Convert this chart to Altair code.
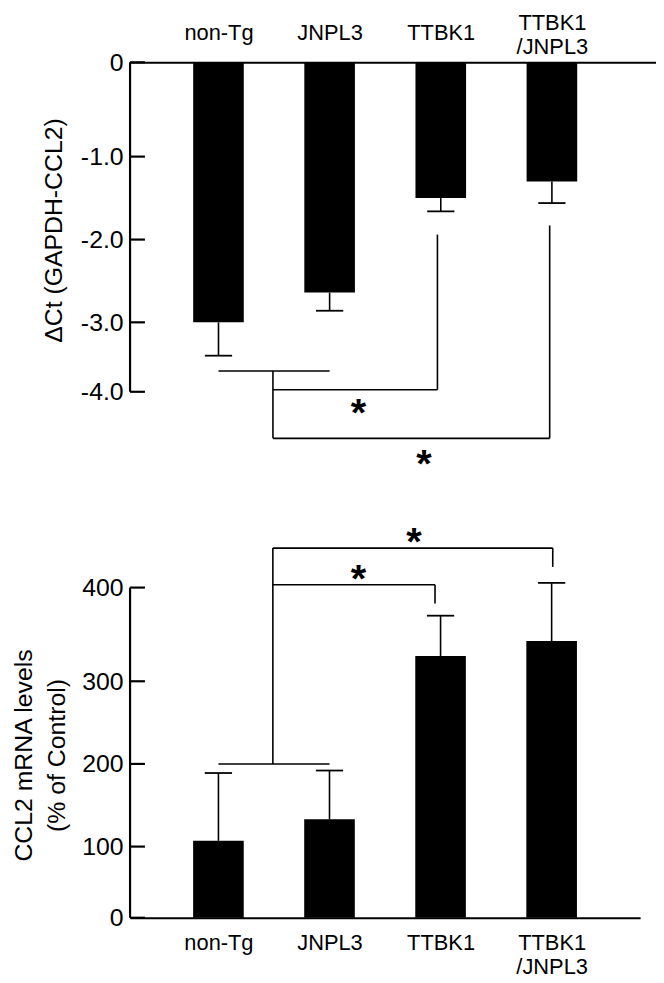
import json
import altair as alt
import pandas as pd

# ---------------- data ----------------
categories = ["non-Tg", "JNPL3", "TTBK1", "TTBK1 /JNPL3"]

dct_mean = [-3.00, -2.64, -1.50, -1.30]
dct_err = [0.48, 0.22, 0.16, 0.26]

ccl2_mean = [107, 133, 327, 343]
ccl2_err = [82, 59, 43, 62]

top_ticks = [0, -1, -2, -3, -4]
bottom_ticks = [0, 100, 200, 300, 400]

# significance brackets (data units: x = group index, y = value)
top_seg_x = [0.0, 0.49, 0.49, 1.97, 0.49, 2.98]
top_seg_x2 = [1.0, 0.49, 1.97, 1.97, 2.98, 2.98]
top_seg_y = [-3.70, -3.70, -3.97, -3.97, -4.67, -4.67]
top_seg_y2 = [-3.70, -4.67, -3.97, -1.94, -4.67, -1.83]
top_star_x = [1.26, 1.85]
top_star_y = [-4.22, -4.96]

bot_seg_x = [0.0, 0.49, 0.49, 1.95, 0.49, 3.01]
bot_seg_x2 = [1.0, 0.49, 1.95, 1.95, 3.01, 3.01]
bot_seg_y = [200, 200, 403, 403, 442, 442]
bot_seg_y2 = [200, 442, 403, 383, 442, 422]
bot_star_x = [1.26, 1.76]
bot_star_y = [415, 455]

# ---------------- tables ----------------
CAP = 0.1226
idx = list(range(len(categories)))

top_df = pd.DataFrame({"idx": idx, "mean": dct_mean, "err": dct_err})
top_df["end"] = top_df["mean"] - top_df["err"]
top_df["lo"] = top_df["idx"] - CAP
top_df["hi"] = top_df["idx"] + CAP

bot_df = pd.DataFrame({"idx": idx, "mean": ccl2_mean, "err": ccl2_err})
bot_df["end"] = bot_df["mean"] + bot_df["err"]
bot_df["lo"] = bot_df["idx"] - CAP
bot_df["hi"] = bot_df["idx"] + CAP

top_seg = pd.DataFrame({"x": top_seg_x, "x2": top_seg_x2, "y": top_seg_y, "y2": top_seg_y2})
bot_seg = pd.DataFrame({"x": bot_seg_x, "x2": bot_seg_x2, "y": bot_seg_y, "y2": bot_seg_y2})
top_star = pd.DataFrame({"x": top_star_x, "y": top_star_y})
bot_star = pd.DataFrame({"x": bot_star_x, "y": bot_star_y})
top_tick_df = pd.DataFrame({"t": top_ticks})
bot_tick_df = pd.DataFrame({"t": bottom_ticks})
top_axis_df = pd.DataFrame({"a": [max(top_ticks)], "b": [min(top_ticks)]})
bot_axis_df = pd.DataFrame({"a": [min(bottom_ticks)], "b": [max(bottom_ticks)]})

FONT = "Liberation Sans"
label_expr = "split(" + json.dumps(categories) + "[datum.value], ' ')"
multi_test = "indexof(" + json.dumps(categories) + "[datum.value], ' ') >= 0"


def x_axis(orient, pad, baseline):
    return alt.Axis(
        orient=orient, values=idx, ticks=False, grid=False, domain=True,
        domainColor="black", domainWidth=2, labelFontSize=22, labelFont=FONT,
        labelColor="black", labelPadding=pad, labelBaseline=baseline,
        labelLineHeight=24, labelExpr=label_expr, labelOverlap=False,
        labelFlush=False, title=None,
    )


def y_axis(values, expr, title, tx, ty):
    return alt.Axis(
        values=values, domain=False, ticks=False, grid=False, labelPadding=7,
        labelFontSize=25, labelFont=FONT, labelColor="black", labelExpr=expr,
        labelOverlap=False, title=title, titleFontSize=25, titleFont=FONT,
        titleFontWeight="normal", titleColor="black", titleX=tx, titleY=ty,
        titleAngle=270, titleAlign="center", titleBaseline="middle",
        titleLineHeight=33,
    )


def build_panel(df, seg, star, tick_df, axis_df, xs, ys, xa, ya, w, h):
    def X(f):
        return alt.X(f, type="quantitative", scale=xs, axis=xa)

    def Y(f):
        return alt.Y(f, type="quantitative", scale=ys, axis=ya)

    bars = alt.Chart(df).mark_bar(color="black", size=51, orient="vertical").encode(
        x=X("idx"), y=Y("mean"), y2=alt.Y2(datum=0)
    )
    stems = alt.Chart(df).mark_rule(color="black", strokeWidth=1.6).encode(
        x=X("idx"), y=Y("mean"), y2=alt.Y2("end")
    )
    caps = alt.Chart(df).mark_rule(color="black", strokeWidth=1.8).encode(
        x=X("lo"), x2=alt.X2("hi"), y=Y("end")
    )
    segs = alt.Chart(seg).mark_rule(color="black", strokeWidth=1.6).encode(
        x=X("x"), x2=alt.X2("x2"), y=Y("y"), y2=alt.Y2("y2")
    )
    stars = alt.Chart(star).mark_text(
        text="*", font=FONT, fontSize=40, fontWeight="bold", dy=7,
        baseline="middle", align="center", color="black"
    ).encode(x=X("x"), y=Y("y"))
    yline = alt.Chart(axis_df).mark_rule(color="black", strokeWidth=2.2).encode(
        x=alt.value(0), y=Y("a"), y2=alt.Y2("b")
    )
    ticks = alt.Chart(tick_df).mark_rule(color="black", strokeWidth=2.2).encode(
        x=alt.value(0), x2=alt.value(15), y=Y("t")
    )
    return alt.layer(bars, stems, caps, segs, stars, yline, ticks).properties(
        width=w, height=h
    )


top_xs = alt.Scale(domain=[-0.751, 3.892], nice=False, zero=False)
top_ys = alt.Scale(domain=[0, -1, -2, -3, -4, -5.5],
                   range=[0, 95, 178.6, 262, 332, 437], nice=False, zero=False)
top_ya = y_axis(top_ticks,
                "datum.value == 0 ? '0' : '-' + format(abs(datum.value), '.1f')",
                "\u0394Ct (GAPDH-CCL2)", -77, 169)
top_xa = x_axis("top", {"condition": {"test": multi_test, "value": 40}, "value": 30}, "middle")
top = build_panel(top_df, top_seg, top_star, top_tick_df, top_axis_df,
                  top_xs, top_ys, top_xa, top_ya, 530, 437)

bot_xs = alt.Scale(domain=[-0.751, 3.752], nice=False, zero=False)
bot_ys = alt.Scale(domain=[0, 100, 200, 300, 400, 470],
                   range=[399, 327.3, 244, 160.7, 66.3, 0], nice=False, zero=False)
bot_ya = y_axis(bottom_ticks, "format(datum.value, 'd')",
                ["CCL2 mRNA levels", "(% of Control)"], -107, 235)
bottom = build_panel(bot_df, bot_seg, bot_star, bot_tick_df, bot_axis_df,
                     bot_xs, bot_ys, x_axis("bottom", 15, "top"), bot_ya, 514, 399)

chart = (
    alt.vconcat(top, bottom, spacing=26)
    .resolve_scale(x="independent", y="independent")
    .resolve_axis(x="independent", y="independent")
    .properties(padding={"left": 4, "top": 0, "right": 0, "bottom": 0})
    .configure(font=FONT)
    .configure_view(stroke=None)
)

chart.save("out.html", embed_options={"renderer": "svg", "actions": False})
